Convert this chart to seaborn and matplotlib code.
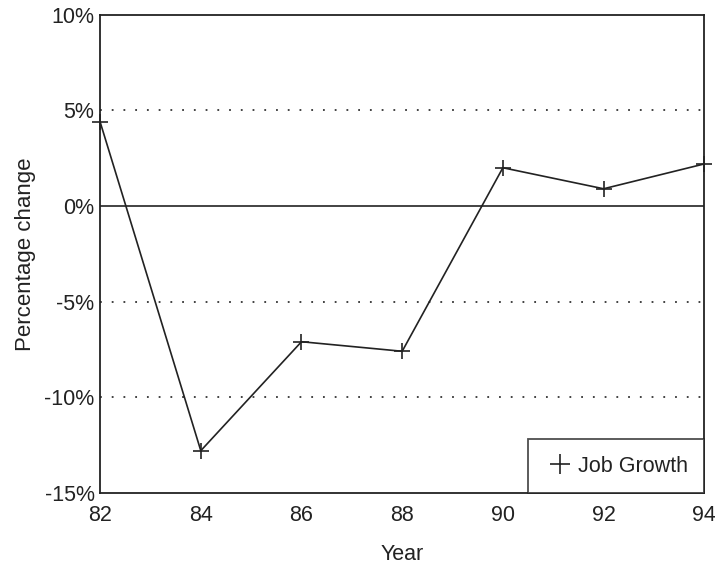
import pandas as pd
import seaborn as sns
import matplotlib.pyplot as plt
from matplotlib.lines import Line2D
from matplotlib.ticker import FuncFormatter

years = [82, 84, 86, 88, 90, 92, 94]
job_growth = [4.4, -12.8, -7.1, -7.6, 2.0, 0.9, 2.2]

sns.set_style("white")
plt.rcParams["font.family"] = ["Liberation Sans", "DejaVu Sans"]

df = pd.DataFrame({"Year": years, "Job Growth": job_growth})

fig = plt.figure(figsize=(7.15, 5.69), dpi=100)
ax = fig.add_axes([0.14, 0.134, 0.845, 0.84])

# reference lines
for y in [5, -5, -10]:
    ax.axhline(y, color="#333333", lw=1.3, ls=(0, (1, 5.5)))
ax.axhline(0, color="#222222", lw=1.2)

sns.lineplot(
    data=df, x="Year", y="Job Growth", ax=ax, color="#222222", lw=1.2,
    marker="+", markersize=12, markeredgewidth=1.2, markeredgecolor="#222222",
    clip_on=False,
)

ax.set_xlim(82, 94)
ax.set_ylim(-15, 10)
ax.set_xticks(years)
ax.set_yticks([-15, -10, -5, 0, 5, 10])
ax.yaxis.set_major_formatter(FuncFormatter(lambda v, p: f"{v:.0f}%"))
ax.tick_params(direction="in", length=8, width=1.2, color="#222222",
               labelsize=15.5, labelcolor="#222222", pad=4)
ax.tick_params(axis="x", pad=9)
for s in ax.spines.values():
    s.set_color("#222222")
    s.set_linewidth(1.3)

ax.set_xlabel("Year", fontsize=15.5, color="#222222", labelpad=13)
ax.set_ylabel("Percentage change", fontsize=16, color="#222222", labelpad=6)

handle = Line2D([], [], ls="none", marker="+", color="#222222",
                markersize=14, markeredgewidth=1.2)
leg = ax.legend([handle], ["Job Growth"], loc="lower right", fontsize=15.5,
                frameon=True, fancybox=False, borderaxespad=0,
                handletextpad=0.1, borderpad=0.75, handlelength=1.5)
leg.get_frame().set_edgecolor("#222222")
leg.get_frame().set_linewidth(1.3)
for t in leg.get_texts():
    t.set_color("#222222")

fig.savefig("out.png", dpi=100)
